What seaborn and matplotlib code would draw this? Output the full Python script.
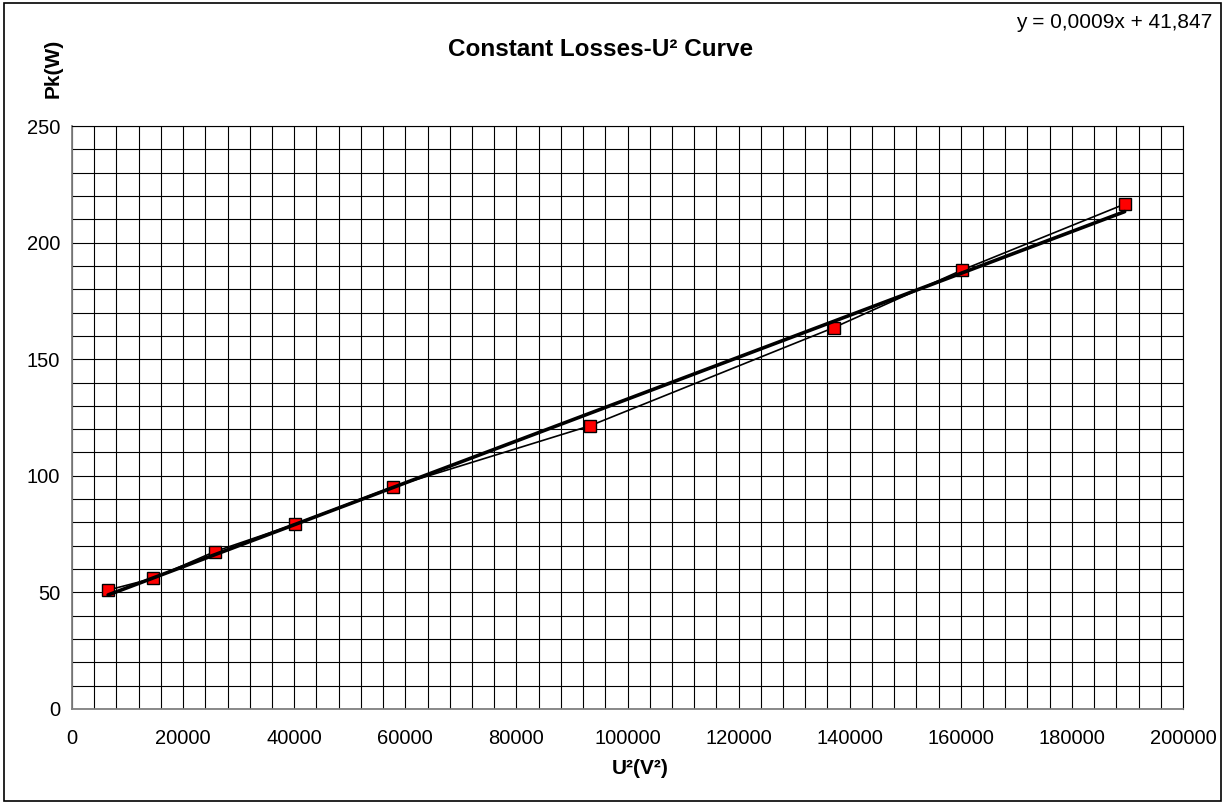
import matplotlib
matplotlib.use("Agg")
import matplotlib.pyplot as plt
from matplotlib.ticker import MultipleLocator
from matplotlib.patches import Rectangle
import seaborn as sns
import pandas as pd

# ---- data ----
u_squared = [6500, 14600, 25700, 40200, 57800, 93200, 137100, 160300, 189500]
pk_watts = [51.0, 56.0, 67.5, 79.3, 95.3, 121.4, 163.5, 188.3, 216.5]
title_text = "Constant Losses-U\u00b2 Curve"
x_label = "U\u00b2(V\u00b2)"
y_label = "Pk(W)"
equation_text = "y = 0,0009x + 41,847"

df = pd.DataFrame({"U2": u_squared, "Pk": pk_watts})

sns.set_theme(style="white")
plt.rcParams["font.family"] = ["Liberation Sans", "DejaVu Sans"]
plt.rcParams["text.color"] = "black"

fig = plt.figure(figsize=(12.24, 8.09), dpi=100)
ax = fig.add_axes([72 / 1224, 1 - 709 / 809, 1111 / 1224, 583 / 809])

# data series line with markers
sns.lineplot(data=df, x="U2", y="Pk", ax=ax, color="black", linewidth=1.2,
             marker="s", markersize=8.5, markerfacecolor="#ff0000",
             markeredgecolor="black", markeredgewidth=1.0, zorder=3)

# linear trendline
sns.regplot(data=df, x="U2", y="Pk", ax=ax, scatter=False, ci=None,
            truncate=True, line_kws={"color": "black", "linewidth": 2.6, "zorder": 4})

ax.set_xlim(0, 200000)
ax.set_ylim(0, 250)
ax.xaxis.set_major_locator(MultipleLocator(20000))
ax.xaxis.set_minor_locator(MultipleLocator(4000))
ax.yaxis.set_major_locator(MultipleLocator(50))
ax.yaxis.set_minor_locator(MultipleLocator(10))
ax.grid(which="major", color="black", linewidth=0.8)
ax.grid(which="minor", color="black", linewidth=0.8)
ax.set_axisbelow(True)

ax.tick_params(axis="both", which="major", direction="inout", length=9, width=1,
               color="#808080", labelsize=14.5, labelcolor="black", pad=4)
ax.tick_params(axis="both", which="minor", length=0)
ax.xaxis.set_tick_params(pad=10)

for side in ["left", "bottom"]:
    ax.spines[side].set_color("#808080")
    ax.spines[side].set_linewidth(1.3)
for side in ["top", "right"]:
    ax.spines[side].set_color("black")
    ax.spines[side].set_linewidth(0.8)

ax.set_xlabel("")
ax.set_ylabel("")

fig.text(601 / 1224, 1 - 49 / 809, title_text, ha="center", va="center",
         fontsize=17.5, fontweight="bold", color="black")
fig.text(640 / 1224, 1 - 768 / 809, x_label, ha="center", va="center",
         fontsize=15, fontweight="bold", color="black")
fig.text(53 / 1224, 1 - 68 / 809, y_label, ha="center", va="center",
         fontsize=15, fontweight="bold", rotation=90, color="black")
fig.text(1212 / 1224, 1 - 22 / 809, equation_text, ha="right", va="center",
         fontsize=15, color="black")

fig.patches.append(Rectangle((4 / 1224, 1 - 801 / 809), 1217 / 1224, 798 / 809,
                             transform=fig.transFigure, fill=False,
                             edgecolor="black", linewidth=1.2))

fig.savefig("out.png", dpi=100, facecolor="white")
